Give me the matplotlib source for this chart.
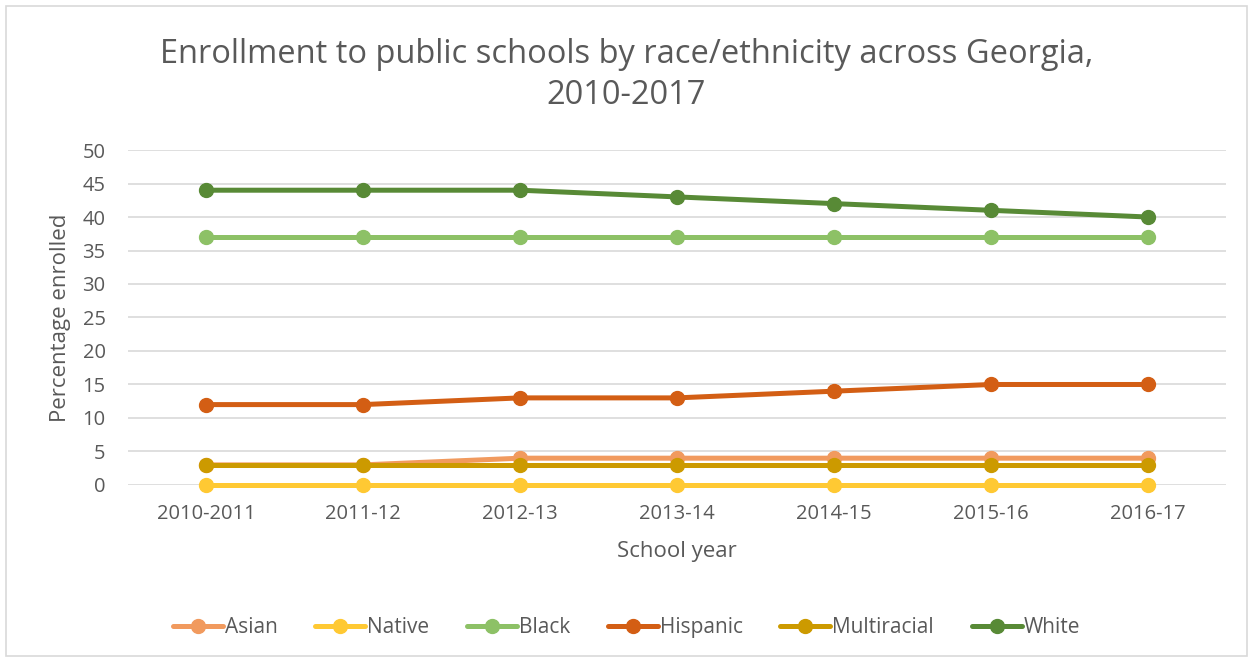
import matplotlib.pyplot as plt
from matplotlib.patches import Rectangle

plt.rcParams['font.family'] = ['Open Sans', 'DejaVu Sans']

years = ['2010-2011', '2011-12', '2012-13', '2013-14', '2014-15', '2015-16', '2016-17']
asian = [3, 3, 4, 4, 4, 4, 4]
native = [0, 0, 0, 0, 0, 0, 0]
black = [37, 37, 37, 37, 37, 37, 37]
hispanic = [12, 12, 13, 13, 14, 15, 15]
multiracial = [3, 3, 3, 3, 3, 3, 3]
white = [44, 44, 44, 43, 42, 41, 40]

series = [
    ('Asian', asian, '#F19A5E'),
    ('Native', native, '#FFC933'),
    ('Black', black, '#8DC166'),
    ('Hispanic', hispanic, '#D35E14'),
    ('Multiracial', multiracial, '#CC9A00'),
    ('White', white, '#588A36'),
]

fig = plt.figure(figsize=(12.53, 6.62), dpi=100)
ax = fig.add_axes([0.102, 0.2674, 0.8765, 0.506])

x = range(len(years))
for name, vals, col in series:
    ax.plot(x, vals, color=col, lw=3.6, marker='o', ms=10, label=name,
            solid_capstyle='round', clip_on=False)

ax.set_xlim(-0.5, len(years) - 0.5)
ax.set_ylim(0, 50)
ax.set_yticks(range(0, 51, 5))
ax.set_xticks(list(x))
ax.set_xticklabels(years)
ax.grid(axis='y', color='#D9D9D9', lw=1.2)
ax.set_axisbelow(True)
for s in ax.spines.values():
    s.set_visible(False)
ax.tick_params(length=0, labelsize=14.5, colors='#595959', pad=14)
ax.tick_params(axis='y', pad=16)
for lab in ax.get_xticklabels() + ax.get_yticklabels():
    lab.set_color('#595959')

ax.set_xlabel('School year', fontsize=16, color='#595959', labelpad=12)
ax.set_ylabel('Percentage enrolled', fontsize=16, color='#595959', labelpad=8)

fig.text(0.5, 0.887, 'Enrollment to public schools by race/ethnicity across Georgia,\n2010-2017',
         ha='center', va='center', fontsize=23.5, color='#595959', linespacing=1.3)

fig.legend(loc='center', bbox_to_anchor=(0.5, 0.052), ncol=6, frameon=False,
           fontsize=15, handlelength=2.4, columnspacing=1.8, handletextpad=0.1,
           labelcolor='#595959')

fig.patches.append(Rectangle((6 / 1253, 6 / 662), 1 - 12 / 1253, 1 - 12 / 662,
                             transform=fig.transFigure, fill=False,
                             edgecolor='#D9D9D9', lw=1.2))

fig.savefig('out.png', dpi=100)
